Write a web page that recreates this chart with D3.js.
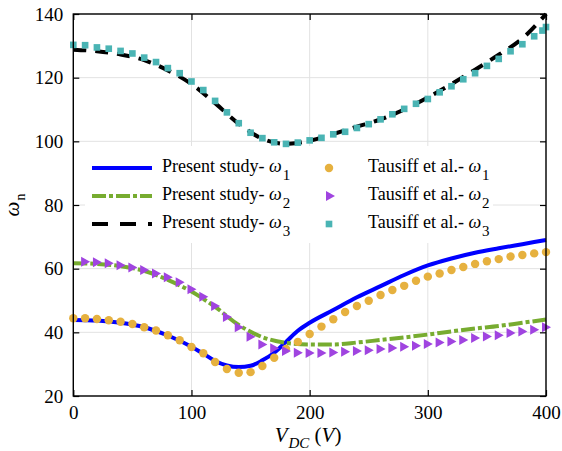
<!DOCTYPE html>
<html><head><meta charset="utf-8">
<script src="https://cdn.jsdelivr.net/npm/d3@7"></script>
<style>body{margin:0;background:#fff}svg{display:block}</style>
</head><body>
<svg id="c" width="562" height="451" font-family="Liberation Serif"></svg>
<script>
// ---------- data ----------
const xTicks = [0, 100, 200, 300, 400];
const yTicks = [20, 40, 60, 80, 100, 120, 140];

// Present study (lines)
const w1LineV = [0,20,40,60,80,100,110,120,130,140,150,160,170,180,190,200,220,240,260,280,300,320,340,360,380,400];
const w1Line  = [43.9,43.7,43.0,41.6,39.0,35.5,33.3,31.0,29.6,29.1,29.5,31.2,33.6,37.0,40.5,43.0,47.0,51.0,54.5,58.0,61.0,63.2,65.0,66.4,67.7,69.0];

const w2LineV = [0,20,40,60,80,100,120,140,160,180,200,220,240,260,280,300,320,340,360,380,400];
const w2Line  = [61.7,61.5,60.8,59.3,56.5,52.8,48.0,42.3,38.5,36.7,36.2,36.2,36.8,37.6,38.4,39.3,40.3,41.2,42.0,43.0,44.0];

const w3LineV = [0,20,40,60,80,100,120,140,160,180,200,220,240,260,280,300,320,340,360,380,400];
const w3Line  = [128.8,128.3,127.3,125.5,122.3,118.0,112.0,105.5,100.8,99.2,100.2,102.3,104.6,106.9,110.0,113.8,118.0,122.5,127.2,132.3,140.0];

// Tausiff et al. (markers)
const w1PtsV = [0,10,20,30,40,50,60,70,80,90,100,110,120,130,140,150,160,170,180,190,200,210,220,230,240,250,260,270,280,290,300,310,320,330,340,350,360,370,380,390,400];
const w1Pts  = [44.4,44.4,44.2,43.8,43.3,42.6,41.6,40.6,39.1,37.5,35.4,33.4,30.7,28.5,27.3,27.5,29.4,32.0,34.8,37.0,39.5,41.8,44.1,46.4,48.3,49.9,51.7,53.3,54.6,56.2,57.5,58.5,59.6,60.5,61.5,62.3,63.0,63.8,64.3,64.8,65.2];

const w2PtsV = [10,20,30,40,50,60,70,80,90,100,110,120,130,140,150,160,170,180,190,200,210,220,230,240,250,260,270,280,290,300,310,320,330,340,350,360,370,380,390,400];
const w2Pts  = [62.2,62.0,61.7,61.1,60.4,59.6,58.5,57.3,55.7,53.5,51.2,48.3,44.8,41.6,38.6,36.2,35.0,34.1,33.6,33.5,33.5,33.7,33.9,34.1,34.4,34.8,35.1,35.5,35.8,36.3,36.8,37.1,37.6,38.2,38.7,39.1,39.8,40.3,40.8,41.6];

const w3PtsV = [0,10,20,30,40,50,60,70,80,90,100,110,120,130,140,150,160,170,180,190,200,210,220,230,240,250,260,270,280,290,300,310,320,330,340,350,360,370,380,390,397,400];
const w3Pts  = [130.3,130.2,129.5,129.1,128.4,127.6,126.3,124.9,123.0,121.4,118.8,116.1,112.7,109.1,105.7,102.7,101.0,99.7,99.2,99.6,100.3,101.1,102.2,103.0,104.2,105.4,106.9,108.5,110.2,111.8,113.3,115.4,117.3,119.5,121.4,123.7,125.9,128.3,130.5,133.0,134.8,135.9];

// ---------- chart ----------
const FONT = "Liberation Serif";
const svg = d3.select("#c");
const L = 73.3, R = 546, T = 14, B = 396;
const x = d3.scaleLinear([0, 400], [L, R]);
const y = d3.scaleLinear([20, 140], [B, T]);
const COL = {blue:"#0000ff", green:"#77ac30", black:"#000000", gold:"#e6b13f", purple:"#a044e0", teal:"#4ab4b4"};

// grid
const grid = svg.append("g").attr("stroke", "#e2e2e2").attr("stroke-width", 1);
xTicks.forEach(t => grid.append("line").attr("x1", x(t)).attr("x2", x(t)).attr("y1", T).attr("y2", B));
yTicks.forEach(t => grid.append("line").attr("x1", L).attr("x2", R).attr("y1", y(t)).attr("y2", y(t)));

// legend background (hides gridlines)
svg.append("rect").attr("x", 85).attr("y", 146).attr("width", 408).attr("height", 97).attr("fill", "#fff");

// clip
svg.append("clipPath").attr("id", "clip").append("rect").attr("x", L).attr("y", T - 2).attr("width", R - L + 2).attr("height", B - T + 2);
const plot = svg.append("g").attr("clip-path", "url(#clip)");

const line = d3.line().x(d => x(d[0])).y(d => y(d[1])).curve(d3.curveMonotoneX);
const zip = (a, b) => a.map((v, i) => [v, b[i]]);

plot.append("path").datum(zip(w1LineV, w1Line)).attr("d", line).attr("fill", "none")
  .attr("stroke", COL.blue).attr("stroke-width", 4);
plot.append("path").datum(zip(w2LineV, w2Line)).attr("d", line).attr("fill", "none")
  .attr("stroke", COL.green).attr("stroke-width", 4).attr("stroke-dasharray", "14,3,4,3");
plot.append("path").datum(zip(w3LineV, w3Line)).attr("d", line).attr("fill", "none")
  .attr("stroke", COL.black).attr("stroke-width", 4).attr("stroke-dasharray", "13,9");

const circ = d3.symbol().type(d3.symbolCircle).size(56);
const sq = d3.symbol().type(d3.symbolSquare).size(44);
const triPath = "M-4,-5L5,0L-4,5Z";

svg.append("g").selectAll("path").data(zip(w1PtsV, w1Pts)).join("path")
  .attr("d", circ).attr("transform", d => `translate(${x(d[0])},${y(d[1])})`).attr("fill", COL.gold);
svg.append("g").selectAll("path").data(zip(w2PtsV, w2Pts)).join("path")
  .attr("d", triPath).attr("transform", d => `translate(${x(d[0])},${y(d[1])})`).attr("fill", COL.purple);
svg.append("g").selectAll("path").data(zip(w3PtsV, w3Pts)).join("path")
  .attr("d", sq).attr("transform", d => `translate(${x(d[0])},${y(d[1])})`).attr("fill", COL.teal);

// axes
const fs = 19;
const ax = svg.append("g").attr("transform", `translate(0,${B})`)
  .call(d3.axisBottom(x).tickValues(xTicks).tickSizeInner(-6).tickSizeOuter(0).tickPadding(10));
const ay = svg.append("g").attr("transform", `translate(${L},0)`)
  .call(d3.axisLeft(y).tickValues(yTicks).tickSizeInner(-6).tickSizeOuter(0).tickPadding(10));
const axT = svg.append("g").attr("transform", `translate(0,${T})`)
  .call(d3.axisTop(x).tickValues(xTicks).tickSizeInner(-6).tickSizeOuter(0).tickFormat(""));
const ayR = svg.append("g").attr("transform", `translate(${R},0)`)
  .call(d3.axisRight(y).tickValues(yTicks).tickSizeInner(-6).tickSizeOuter(0).tickFormat(""));
[ax, ay, axT, ayR].forEach(g => {
  g.attr("font-family", FONT).attr("font-size", fs);
  g.select(".domain").remove();
  g.selectAll("line").attr("stroke", "#000").attr("stroke-width", 1.2);
  g.selectAll("text").attr("font-family", FONT).attr("font-size", fs).attr("fill", "#000");
});
svg.append("rect").attr("x", L).attr("y", T).attr("width", R - L).attr("height", B - T)
  .attr("fill", "none").attr("stroke", "#000").attr("stroke-width", 1.4);

// axis titles
const xt = svg.append("text").attr("x", 308).attr("y", 442).attr("text-anchor", "middle")
  .attr("font-family", FONT).attr("font-size", 21);
xt.append("tspan").attr("font-style", "italic").text("V");
xt.append("tspan").attr("font-style", "italic").attr("font-size", 15).attr("dy", 6).attr("dx", 1).text("DC");
xt.append("tspan").attr("dy", -6).text(" (");
xt.append("tspan").attr("font-style", "italic").text("V");
xt.append("tspan").text(")");

const yt = svg.append("text").attr("transform", "translate(19,205) rotate(-90)").attr("text-anchor", "middle")
  .attr("font-family", FONT).attr("font-size", 21);
yt.append("tspan").attr("font-style", "italic").text("ω");
yt.append("tspan").attr("font-size", 14).attr("dy", 6).attr("dx", 1).text("n");

// legend
const leg = svg.append("g");
const rowsY = [168, 196, 224];
const lfs = 18;
function legText(xp, yp, label, sub) {
  const t = leg.append("text").attr("x", xp).attr("y", yp + 4).attr("font-family", FONT).attr("font-size", lfs);
  t.append("tspan").text(label + " ");
  t.append("tspan").attr("font-style", "italic").text("ω");
  t.append("tspan").attr("font-size", 15).attr("dy", 8).attr("dx", 1).text(sub);
}
const legLines = [[COL.blue, null], [COL.green, "14,3,4,3"], [COL.black, "16,12"]];
legLines.forEach((d, i) => {
  leg.append("line").attr("x1", 92).attr("x2", 152).attr("y1", rowsY[i]).attr("y2", rowsY[i])
    .attr("stroke", d[0]).attr("stroke-width", 4).attr("stroke-dasharray", d[1]);
  legText(162, rowsY[i], "Present study-", String(i + 1));
});
leg.append("path").attr("d", circ).attr("transform", `translate(329,${rowsY[0]})`).attr("fill", COL.gold);
leg.append("path").attr("d", triPath).attr("transform", `translate(330,${rowsY[1]})`).attr("fill", COL.purple);
leg.append("path").attr("d", sq).attr("transform", `translate(329,${rowsY[2]})`).attr("fill", COL.teal);
["1", "2", "3"].forEach((s, i) => legText(368, rowsY[i], "Tausiff et al.-", s));
</script>
</body></html>
